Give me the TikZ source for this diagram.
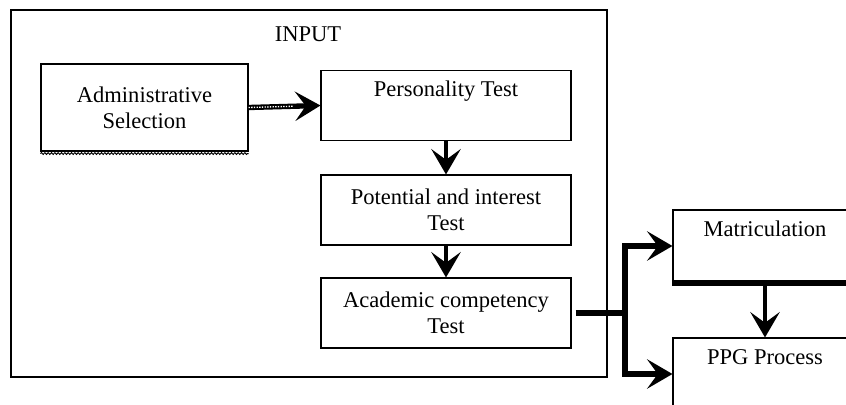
\documentclass[tikz,border=0pt]{standalone}
\usepackage{fontspec}
\setmainfont{Liberation Serif}
\usepackage{xcolor}
\usepackage{tikz}
\usetikzlibrary{arrows.meta,decorations.pathmorphing}

\begin{document}
\begin{tikzpicture}[x=0.75pt,y=-0.75pt,
    txt/.style={font=\fontsize{16.9}{19.5}\selectfont, align=center},
    box/.style={draw, line width=0.8pt, txt},
    flow/.style={line width=3pt, -{Stealth[length=19pt,width=22pt,inset=8pt]}},
    bus/.style={line width=4.5pt}]
    \clip (0,0) rectangle (846,404);

    % Define nodes
    \node[draw, line width=0.8pt, minimum width=447pt, minimum height=275.25pt] (input) at (309,193.5) {};
    \node[txt] (title) at (308,34) {INPUT};
    \node[box, minimum width=155.25pt, minimum height=65.25pt] (admin) at (144.5,107.5) {Administrative\\Selection};
    \node[box, minimum width=187.5pt, minimum height=53pt] (pers) at (446,105.5) {Personality Test\\ \strut};
    \node[box, minimum width=187.5pt, minimum height=52.5pt] (pot) at (446,210) {Potential and interest\\Test};
    \node[box, minimum width=187.5pt, minimum height=52.5pt] (acad) at (446,313) {Academic competency\\Test};
    \node[box, minimum width=138pt, minimum height=54pt] (matr) at (765,246) {Matriculation\\ \strut};
    \node[box, minimum width=138pt, minimum height=54pt] (ppg) at (765,374) {PPG Process\\ \strut};
    \coordinate (fork) at (625,313);

    % Draw edges
    \draw[decorate, decoration={snake, amplitude=0.7pt, segment length=2.5pt}, line width=0.7pt]
        ([yshift=-1.5pt]admin.south west) -- ([yshift=-1.5pt]admin.south east); % rough bottom edge
    \draw[flow, line width=4pt] (admin.east) -- (pers.west);
    \draw[white, densely dotted, line width=1pt, shorten >=20pt] (admin.east) -- (pers.west); % shaft texture
    \draw[flow] (pers.south) -- (pot.north);
    \draw[flow] (pot.south) -- (acad.north);
    \draw[bus, shorten <=3pt] (acad.east) -- (fork);
    \draw[flow, line width=4pt] (fork) |- (matr.west);
    \draw[flow, line width=4pt] (fork) |- (ppg.west);
    \draw[bus] (matr.south west) -- (matr.south east);
    \draw[flow] (matr.south) -- (ppg.north);
\end{tikzpicture}
\end{document}
